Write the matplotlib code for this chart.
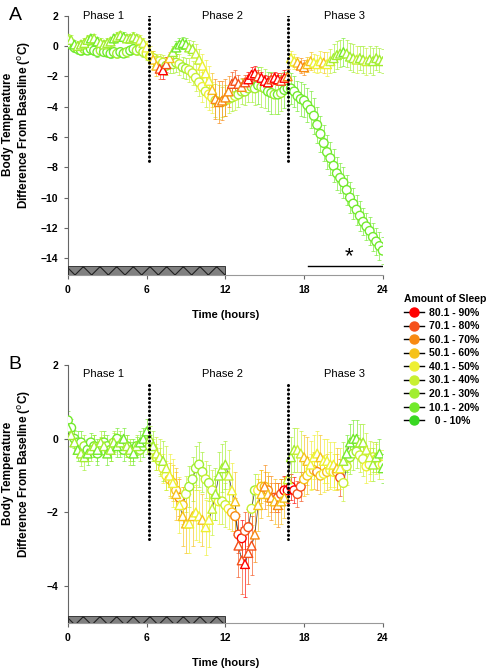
import numpy as np
import matplotlib
matplotlib.use("Agg")
import matplotlib.pyplot as plt
from matplotlib.lines import Line2D

plt.rcParams['font.family'] = ['Liberation Sans', 'DejaVu Sans']
plt.rcParams['hatch.linewidth'] = 0.8

# sleep categories (index 0 = most sleep)
sleep_labels = ['80.1 - 90%', '70.1 - 80%', '60.1 - 70%', '50.1 - 60%', '40.1 - 50%',
                '30.1 - 40%', '20.1 - 30%', '10.1 - 20%', '  0 - 10%']
sleep_colors = ['#ff0000', '#f5501a', '#f88a12', '#f6c21a', '#eef032',
                '#c8f032', '#a2ee30', '#72ea2c', '#38d822']

hours = np.arange(0, 24.01, 0.25)

# ---------------- panel A ----------------
a_circ = [0.3, 0.1, -0.1, -0.2, -0.3, -0.2, -0.3, -0.2, -0.3, -0.4, -0.3, -0.4,
          -0.4, -0.5, -0.4, -0.5, -0.4, -0.5, -0.4, -0.3, -0.2, -0.3, -0.2, -0.4,
          -0.5, -0.7, -0.8, -1.0, -1.0, -1.1, -1.3, -1.2, -1.2, -1.1, -1.2, -1.4,
          -1.5, -1.6, -1.8, -2.1, -2.4, -2.7, -3.0, -3.2, -3.4, -3.6, -3.7, -3.7,
          -3.6, -3.5, -3.4, -3.3, -3.2, -3.0, -3.0, -2.8, -2.7, -2.8, -2.6, -2.7,
          -2.8, -3.0, -3.1, -3.2, -3.2, -3.1, -2.9, -2.8, -2.8, -3.0, -3.3, -3.5,
          -3.6, -3.9, -4.2, -4.6, -5.2, -5.8, -6.4, -7.0, -7.4, -7.9, -8.4, -8.7,
          -9.0, -9.5, -10.0, -10.4, -10.8, -11.2, -11.6, -11.9, -12.2, -12.6, -12.9, -13.2,
          -13.5]
a_circ_err = [0.3, 0.3, 0.3, 0.3, 0.3, 0.3, 0.2, 0.3, 0.3, 0.3, 0.3, 0.2,
              0.3, 0.3, 0.3, 0.3, 0.3, 0.2, 0.3, 0.3, 0.3, 0.3, 0.3, 0.3,
              0.4, 0.4, 0.5, 0.5, 0.5, 0.5, 0.6, 0.6, 0.6, 0.6, 0.7, 0.7,
              0.7, 0.8, 0.8, 0.9, 0.9, 1.0, 1.0, 1.0, 1.0, 1.1, 1.1, 1.0,
              1.0, 0.9, 0.9, 0.9, 0.8, 0.8, 0.9, 0.9, 1.0, 1.1, 1.2, 1.3,
              1.3, 1.3, 1.4, 1.3, 1.3, 1.2, 1.2, 1.1, 1.0, 1.0, 1.0, 1.1,
              1.1, 1.1, 1.2, 1.2, 1.2, 1.2, 1.2, 1.1, 1.1, 1.1, 1.1, 1.0,
              1.0, 1.0, 1.0, 1.0, 1.0, 1.0, 0.9, 0.9, 0.9, 0.9, 0.9, 0.9,
              0.9]
a_circ_cat = [7, 7, 7, 7, 7, 6, 7, 7, 7, 7, 6, 7,
              7, 7, 7, 6, 7, 7, 6, 7, 7, 6, 6, 6,
              5, 5, 5, 5, 5, 5, 6, 6, 6, 6, 5, 6,
              6, 5, 5, 5, 5, 4, 5, 4, 4, 5, 5, 5,
              5, 5, 6, 5, 6, 6, 6, 6, 6, 6, 7, 6,
              6, 7, 7, 6, 7, 6, 7, 7, 7, 7, 7, 7,
              7, 7, 7, 7, 7, 7, 7, 7, 7, 7, 7, 7,
              7, 7, 7, 7, 7, 7, 7, 7, 7, 7, 7, 7,
              7]

a_tri = [0.5, 0.4, 0.1, 0.0, 0.1, 0.2, 0.4, 0.5, 0.5, 0.3, 0.2, 0.1,
         0.2, 0.3, 0.5, 0.6, 0.7, 0.6, 0.5, 0.5, 0.6, 0.5, 0.4, 0.2,
         -0.1, -0.5, -0.9, -1.3, -1.5, -1.6, -1.2, -0.8, -0.4, -0.1, 0.1, 0.2,
         0.1, -0.1, -0.2, -0.5, -0.9, -1.3, -1.8, -2.3, -2.9, -3.5, -3.7, -3.6,
         -3.4, -3.0, -2.5, -2.3, -2.5, -2.7, -2.4, -2.2, -1.9, -1.8, -2.0, -2.1,
         -2.3, -2.4, -2.2, -2.1, -2.2, -2.3, -2.1, -2.0, -0.8, -1.0, -1.1, -1.3,
         -1.4, -1.2, -1.0, -1.1, -1.2, -1.0, -1.1, -1.2, -1.0, -0.8, -0.6, -0.5,
         -0.4, -0.5, -0.7, -0.8, -0.9, -0.8, -0.9, -1.0, -0.9, -1.0, -0.8, -0.9,
         -1.0]
a_tri_err = [0.3, 0.3, 0.3, 0.3, 0.3, 0.3, 0.3, 0.3, 0.3, 0.3, 0.3, 0.3,
             0.3, 0.3, 0.3, 0.3, 0.3, 0.3, 0.3, 0.3, 0.3, 0.3, 0.3, 0.3,
             0.4, 0.5, 0.6, 0.7, 0.7, 0.6, 0.5, 0.4, 0.4, 0.4, 0.4, 0.4,
             0.4, 0.5, 0.5, 0.6, 0.7, 0.8, 0.9, 1.0, 1.1, 1.3, 1.4, 1.3,
             1.2, 1.0, 0.8, 0.7, 0.6, 0.6, 0.5, 0.5, 0.5, 0.5, 0.4, 0.4,
             0.4, 0.4, 0.4, 0.4, 0.4, 0.5, 0.5, 0.5, 0.5, 0.5, 0.4, 0.5,
             0.5, 0.5, 0.6, 0.6, 0.6, 0.7, 0.7, 0.8, 0.8, 0.9, 0.9, 0.9,
             0.9, 0.9, 0.9, 0.9, 0.9, 0.8, 0.9, 0.9, 0.9, 0.9, 0.8, 0.8,
             0.8]
a_tri_cat = [6, 6, 7, 6, 6, 6, 6, 7, 6, 7, 6, 6,
             6, 6, 7, 6, 6, 7, 6, 6, 6, 6, 5, 5,
             4, 4, 3, 3, 1, 0, 1, 3, 6, 7, 7, 7,
             7, 6, 6, 5, 5, 4, 4, 4, 3, 2, 2, 2,
             2, 2, 1, 1, 1, 2, 1, 0, 0, 0, 1, 0,
             0, 0, 1, 0, 0, 1, 0, 2, 4, 4, 3, 2,
             2, 3, 3, 4, 4, 4, 3, 4, 5, 6, 6, 6,
             7, 6, 6, 6, 5, 6, 6, 5, 6, 6, 6, 6,
             6]

# ---------------- panel B ----------------
b_circ = [0.5, 0.3, 0.0, -0.1, -0.1, -0.2, -0.3, -0.1, -0.2, -0.4, -0.2, -0.1,
          -0.2, -0.3, -0.1, 0.0, -0.2, -0.3, -0.2, -0.4, -0.3, -0.2, -0.3, -0.2,
          -0.1, -0.2, -0.3, -0.5, -0.6, -0.8, -1.0, -1.1, -1.2, -1.4, -1.6, -1.8,
          -1.5, -1.3, -1.1, -0.8, -0.7, -0.9, -1.1, -1.2, -1.4, -1.6, -1.7, -1.7,
          -1.8, -1.9, -2.0, -2.1, -2.6, -2.7, -2.5, -2.4, -1.9, -1.4, -1.4, -1.3,
          -1.3, -1.4, -1.6, -1.6, -1.6, -1.5, -1.4, -1.4, -1.3, -1.4, -1.5, -1.3,
          -1.1, -1.0, -0.9, -0.85, -0.9, -1.0, -0.95, -0.9, -0.85, -0.9, -0.9, -1.05,
          -1.2, -0.75, -0.5, -0.4, -0.35, -0.45, -0.55, -0.75, -0.7, -0.5, -0.55, -0.7,
          -0.7]
b_circ_err = [0.25, 0.25, 0.25, 0.3, 0.3, 0.3, 0.3, 0.25, 0.3, 0.3, 0.25, 0.3,
              0.3, 0.3, 0.25, 0.3, 0.3, 0.3, 0.3, 0.3, 0.3, 0.25, 0.3, 0.3,
              0.3, 0.3, 0.3, 0.35, 0.35, 0.4, 0.4, 0.45, 0.5, 0.5, 0.5, 0.5,
              0.5, 0.55, 0.6, 0.6, 0.6, 0.55, 0.5, 0.5, 0.55, 0.6, 0.6, 0.6,
              0.6, 0.55, 0.5, 0.5, 0.5, 0.5, 0.5, 0.5, 0.45, 0.45, 0.45, 0.45,
              0.4, 0.4, 0.4, 0.4, 0.4, 0.4, 0.4, 0.35, 0.35, 0.35, 0.35, 0.4,
              0.45, 0.5, 0.5, 0.5, 0.5, 0.5, 0.5, 0.5, 0.5, 0.5, 0.5, 0.5,
              0.5, 0.5, 0.45, 0.45, 0.45, 0.45, 0.45, 0.45, 0.45, 0.4, 0.4, 0.4,
              0.4]
b_circ_cat = [7, 7, 7, 7, 7, 6, 7, 7, 7, 7, 6, 7,
              7, 7, 6, 7, 7, 7, 7, 6, 7, 7, 6, 7,
              6, 6, 5, 5, 5, 4, 4, 3, 3, 3, 2, 3,
              5, 6, 6, 6, 6, 6, 5, 6, 5, 5, 4, 5,
              5, 4, 3, 2, 1, 0, 1, 1, 5, 6, 4, 3,
              3, 2, 2, 1, 1, 1, 0, 0, 0, 0, 1, 1,
              3, 3, 4, 3, 2, 3, 4, 3, 4, 4, 3, 1,
              5, 5, 6, 6, 6, 5, 5, 4, 4, 5, 4, 5,
              4]

b_tri = [0.3, 0.1, -0.1, -0.3, -0.4, -0.5, -0.4, -0.3, -0.2, -0.3, -0.1, -0.2,
         -0.4, -0.3, -0.1, -0.2, -0.1, 0.0, -0.2, -0.3, -0.4, -0.2, -0.1, 0.0,
         0.2, 0.0, -0.2, -0.4, -0.5, -0.6, -0.8, -1.0, -1.2, -1.5, -1.8, -2.1,
         -2.3, -2.3, -2.1, -2.0, -2.1, -2.2, -2.4, -2.2, -1.9, -1.5, -1.0, -0.8,
         -0.7, -1.0, -1.4, -1.7, -2.9, -3.3, -3.4, -3.1, -2.9, -2.6, -1.8, -1.5,
         -1.3, -1.5, -1.6, -1.7, -1.8, -1.7, -1.6, -1.1, -0.5, -0.3, -0.3, -0.4,
         -0.5, -0.6, -0.7, -0.5, -0.4, -0.5, -0.6, -0.6, -0.7, -0.7, -0.8, -0.8,
         -0.6, -0.4, -0.1, 0.0, 0.0, -0.1, -0.1, -0.3, -0.5, -0.7, -0.5, -0.4,
         -0.8]
b_tri_err = [0.3, 0.3, 0.3, 0.3, 0.35, 0.35, 0.3, 0.3, 0.3, 0.3, 0.3, 0.3,
             0.3, 0.3, 0.3, 0.3, 0.3, 0.3, 0.3, 0.3, 0.3, 0.3, 0.3, 0.3,
             0.35, 0.35, 0.4, 0.45, 0.5, 0.55, 0.6, 0.6, 0.65, 0.7, 0.75, 0.8,
             0.8, 0.8, 0.8, 0.75, 0.7, 0.7, 0.75, 0.75, 0.7, 0.7, 0.65, 0.65,
             0.65, 0.7, 0.75, 0.8, 0.85, 0.9, 0.9, 0.85, 0.8, 0.75, 0.7, 0.65,
             0.6, 0.6, 0.6, 0.6, 0.6, 0.6, 0.55, 0.55, 0.55, 0.6, 0.6, 0.6,
             0.6, 0.65, 0.65, 0.6, 0.6, 0.6, 0.6, 0.6, 0.6, 0.6, 0.55, 0.55,
             0.5, 0.5, 0.5, 0.5, 0.5, 0.5, 0.5, 0.45, 0.45, 0.45, 0.4, 0.4,
             0.4]
b_tri_cat = [7, 6, 6, 7, 6, 6, 7, 6, 6, 7, 6, 6,
             7, 6, 6, 7, 6, 7, 6, 6, 7, 6, 7, 7,
             7, 6, 6, 5, 5, 6, 5, 4, 4, 3, 4, 3,
             3, 4, 3, 4, 4, 3, 4, 4, 5, 6, 6, 6,
             6, 5, 4, 3, 1, 1, 0, 1, 1, 2, 3, 3,
             2, 3, 2, 3, 2, 3, 3, 5, 6, 6, 5, 5,
             3, 3, 4, 4, 4, 3, 4, 4, 4, 4, 3, 4,
             6, 7, 7, 7, 7, 6, 6, 5, 5, 6, 6, 7,
             7]

phase_names = ['Phase 1', 'Phase 2', 'Phase 3']
phase_label_x = [2.75, 11.8, 21.1]
phase_bounds = [6.15, 16.8]
dark_period = (0, 12)


def draw_series(ax, y, err, cat, marker, joined):
    y = np.asarray(y, float)
    err = np.asarray(err, float)
    cat = np.asarray(cat)
    cols = [sleep_colors[c] for c in cat]
    for c in np.unique(cat):
        m = cat == c
        ax.errorbar(hours[m], y[m], yerr=err[m], fmt='none', ecolor=sleep_colors[c],
                    elinewidth=0.6, capsize=1.3, capthick=0.6, alpha=0.75, zorder=2)
    if joined:
        ax.plot(hours, y, color='#333333', lw=0.5, zorder=3)
    ax.scatter(hours, y, s=40, marker=marker, facecolors='white', edgecolors=cols,
               linewidths=1.0, zorder=4)


def style_axes(ax, ylim, yticks, bar_top, phase_y, vline_span):
    ax.set_xlim(0, 24)
    ax.set_ylim(*ylim)
    ax.set_xticks([0, 6, 12, 18, 24])
    ax.set_yticks(yticks)
    for s in ['top', 'right']:
        ax.spines[s].set_visible(False)
    ax.spines['bottom'].set_color('#999999')
    ax.spines['left'].set_color('#666666')
    ax.tick_params(direction='out', length=3, width=0.8, colors='#666666',
                   labelcolor='black', labelsize=7.5, pad=4)
    for lab in ax.get_xticklabels() + ax.get_yticklabels():
        lab.set_fontweight('bold')
    ax.fill_between(dark_period, ylim[0], bar_top, facecolor='#808080',
                    edgecolor='#222222', hatch='xx', lw=0.6, zorder=5)
    for xb in phase_bounds:
        ax.plot([xb, xb], vline_span, color='black', lw=2.2,
                ls=(0, (0.05, 1.35)), dash_capstyle='round', zorder=6)
    for name, xp in zip(phase_names, phase_label_x):
        ax.text(xp, phase_y, name, ha='center', va='center', fontsize=8)
    ax.set_xlabel('Time (hours)', fontsize=8, fontweight='bold', labelpad=11)
    ax.set_ylabel('Body Temperature\nDifference From Baseline ($^{\\rm o}$C)',
                  fontsize=8.5, fontweight='bold', linespacing=1.1)
    ax.yaxis.set_label_coords(-0.112, 0.58)


fig = plt.figure(figsize=(4.92, 6.68), dpi=100)
axA = fig.add_axes([0.138, 0.5885, 0.640, 0.388])
axB = fig.add_axes([0.138, 0.0674, 0.640, 0.386])

draw_series(axA, a_circ, a_circ_err, a_circ_cat, 'o', False)
draw_series(axA, a_tri, a_tri_err, a_tri_cat, '^', False)
style_axes(axA, (-15.1, 2), np.arange(-14, 2.1, 2), -14.5, 2.0, (2.3, -7.8))
axA.plot([18.3, 24], [-14.5, -14.5], color='black', lw=1.0)
axA.text(21.4, -13.9, '*', ha='center', va='center', fontsize=16)

draw_series(axB, b_circ, b_circ_err, b_circ_cat, 'o', True)
draw_series(axB, b_tri, b_tri_err, b_tri_cat, '^', True)
style_axes(axB, (-5, 2), [-4, -2, 0, 2], -4.8, 1.75, (1.45, -2.72))

fig.text(0.018, 0.977, 'A', fontsize=14, va='center')
fig.text(0.018, 0.455, 'B', fontsize=14, va='center')

handles = [Line2D([0], [0], color='black', lw=1.0, marker='o', markersize=6.5,
                  markerfacecolor=c, markeredgecolor=c) for c in sleep_colors]
leg = fig.legend(handles, sleep_labels, loc='upper left',
                 bbox_to_anchor=(0.81, 1 - 289 / 668), frameon=False,
                 title='Amount of Sleep', fontsize=7.5, handlelength=1.9,
                 handletextpad=0.5, labelspacing=0.34, borderpad=0,
                 title_fontproperties={'weight': 'bold', 'size': 7.5})
leg._legend_box.align = 'left'
for t in leg.get_texts():
    t.set_fontweight('bold')

fig.savefig('out.png', dpi=100)
